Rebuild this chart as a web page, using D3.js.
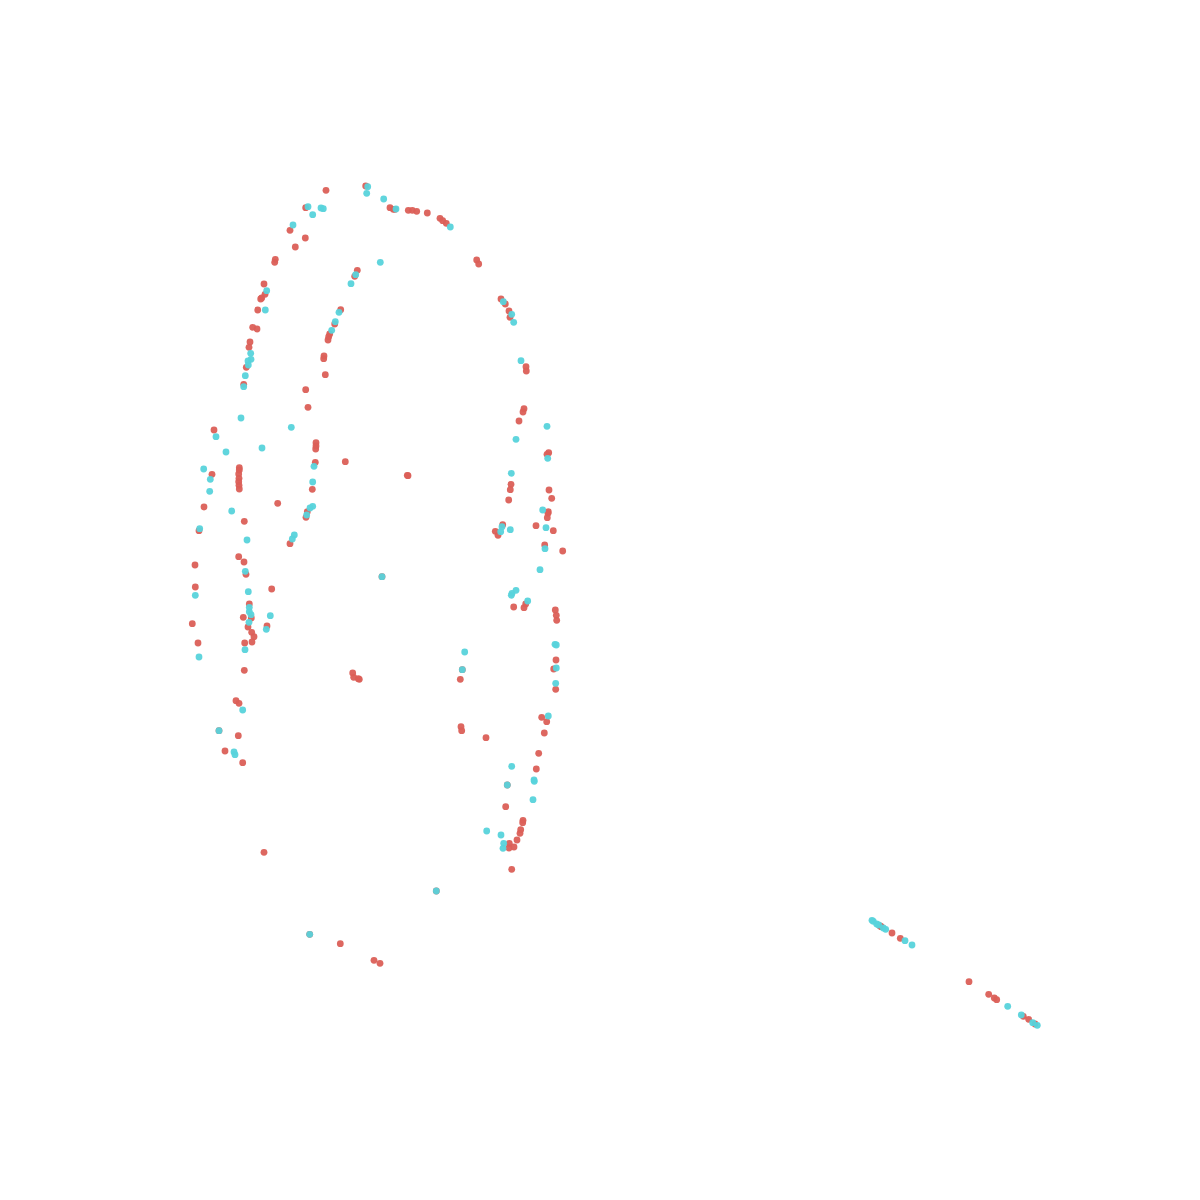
<!DOCTYPE html>
<html><head><meta charset="utf-8">
<script src="https://cdn.jsdelivr.net/npm/d3@7"></script>
<style>html,body{margin:0;padding:0;background:#fff;}</style>
</head><body>
<svg id="chart" width="1200" height="1200"></svg>
<script>
const seriesNames = ["A", "B"];
const seriesColors = ["#db5f57", "#57d3db"];

const seriesA = [
[326,190.3],[365.7,186],[305.7,207.7],[290,230.3],[305.3,238],[295.3,247],[275.3,259.3],[274.7,262.3],
[357.3,270.3],[354.7,276.3],[264,284],[265,294.3],[261.7,298],[260.7,299],[257.7,310],[252.7,327.3],
[257,329],[340.7,309.7],[334.7,324],[329.7,334],[328.7,336.7],[328,340],[324,356],[323.7,358.7],
[325.3,374.7],[250,342],[249,347.3],[246.3,367.3],[390,207.7],[393.3,209.3],[395,209.3],[408.3,210.3],
[412.3,210.3],[416.7,211.3],[427.3,213],[440,218.3],[442.7,220.7],[446.3,223.3],[476.7,260],[478.7,264],
[501,299],[505.3,304],[509,311],[510,317.3],[526,366.7],[526.3,371],
[243.7,384.3],[305.7,389.7],[308,407.3],[214,430],[316,442.7],[316,446],[315.7,449],[315.3,462.3],
[345.3,461.7],[212,474.3],[239.3,467.7],[239.3,470],[238.7,474],[239,478.3],[238.7,481.7],[239,485.3],
[239.3,489],[312.3,489.3],[204,507],[277.7,503.3],[307.3,511.7],[306,517.3],[244.3,521.3],[199,530.7],
[290,543.7],[238.7,556.7],[244,562],[195,565],[246,574.3],
[524,408.7],[523,412],[519,421],[548.7,452.7],[547,454.3],[407.3,475.3],[408,475.7],[511,484.3],
[510.3,489.7],[508.7,500],[549,490],[551.7,498.3],[548.3,511.7],[548,513.3],[547.3,517.7],[536,525.7],
[553.3,530.7],[502.7,524.7],[495.3,531.3],[498,535.3],[544.7,545],[562.7,551],[382,576.7],
[195.3,587],[271.7,589],[249.3,604],[251.3,618],[243.3,617.3],[248,627],[267,626],[192.3,623.7],
[251.7,632.3],[254,636.7],[252,642],[244.7,643],[198,643],[244.3,670.3],[352.7,673],[353.7,677.3],
[359.3,679.3],[358.3,678.7],[236,700.7],[239,703.3],[219,730.7],[238.3,735.7],[225,751],[242.7,762.7],
[525.7,604],[524,607.7],[513.7,607],[555.3,610],[556.3,615.3],[556.7,620.3],[556,660],[553.7,669],
[555.7,689.3],[462.3,669.7],[460.3,679.3],[461,726.7],[461.7,730.7],[486,737.7],[541.7,717.3],
[546.7,721.7],[544.3,733],[538.7,753.3],[536.3,769],
[264,852.3],[309.7,934.3],[340.3,943.7],[374,960.3],[380,963.3],
[507.3,785],[505.7,806.7],[523,820.3],[522.7,822.7],[520.7,829.7],[520,833.3],[517,840],[509.3,843.3],
[509,848],[514,847],[511.7,869.3],[436.3,891],
[880,926],[881.3,926.7],[892,933],[900.3,938.3],[969,981.7],[988.7,994.3],[994.3,998],[996.7,999.7],
[1023.3,1016.3],[1028.7,1019.3],[1035,1024]
];

const seriesB = [
[367.7,186.7],[366.7,193.3],[308,206.7],[312.7,214.7],[321,208],[323.3,208.7],[293,225],[355.7,274.7],
[351,283.7],[380.3,262.3],[266.7,290.7],[265.3,310],[339,312.3],[335.3,321.7],[331.7,330.3],[250.7,353.3],
[251,359.3],[248,361],[248.3,365],[245.3,375.7],
[383.7,199],[396,209],[450.3,227],[503.3,301.7],[511.7,314.3],[513.7,322.3],[521,360.7],
[243.7,386.7],[241,418],[291.3,427.3],[216,436.7],[226,452],[262,448],[314,466.3],[203.7,469],
[210.3,479.3],[209.7,491.3],[312.7,482],[231.7,511],[312.7,506.3],[310,508],[306.7,515],[199.7,528.7],
[247,540],[294.3,535],[292.3,539],[245.3,571.3],
[547,426.3],[516,439.3],[547.7,458.3],[511.3,473.3],[542.7,510],[546,527.7],[502,526.7],[500.7,531.7],
[510.3,529.7],[545,548.7],[540,569.7],[382,576.7],
[195.3,595.3],[248.3,591.7],[249.3,607.3],[249.3,611.7],[251,614.7],[249,622.3],[270.3,615.7],
[266.3,629.3],[245,649.7],[199,657],[242.7,710],[219,730.7],[234,752],[235,754.7],
[512,593.3],[516,590.3],[511.3,595.3],[527.7,601],[555,644.3],[556.3,645],[556.3,668],[555.7,683.3],
[464.7,652],[462.3,669.7],[548.3,716],[511.7,766.3],[534,780],
[309.7,934.3],
[507.3,785],[534.3,781.3],[533,799.7],[486.7,831],[501,835],[503.7,843.3],[503,848.3],[436.3,891],
[872,920.3],[873.3,921.3],[876.7,924],[878.7,925],[883.3,928],[885.7,929.3],[905,940.7],[912,945],
[1007.7,1006.3],[1021.3,1015],[1032.7,1022.7],[1037.3,1025.3]
];

const W = 1200, H = 1200;
const x = d3.scaleLinear().domain([0, 1200]).range([0, W]);
const y = d3.scaleLinear().domain([0, 1200]).range([0, H]);
const color = d3.scaleOrdinal().domain(seriesNames).range(seriesColors);

const svg = d3.select("#chart");
const series = [
  {name: seriesNames[0], pts: seriesA},
  {name: seriesNames[1], pts: seriesB}
];
series.forEach(s => {
  svg.append("g").selectAll("circle").data(s.pts).join("circle")
    .attr("cx", d => x(d[0]))
    .attr("cy", d => y(d[1]))
    .attr("r", 3.4)
    .attr("fill", color(s.name))
    .attr("fill-opacity", 0.95);
});
</script>
</body></html>
